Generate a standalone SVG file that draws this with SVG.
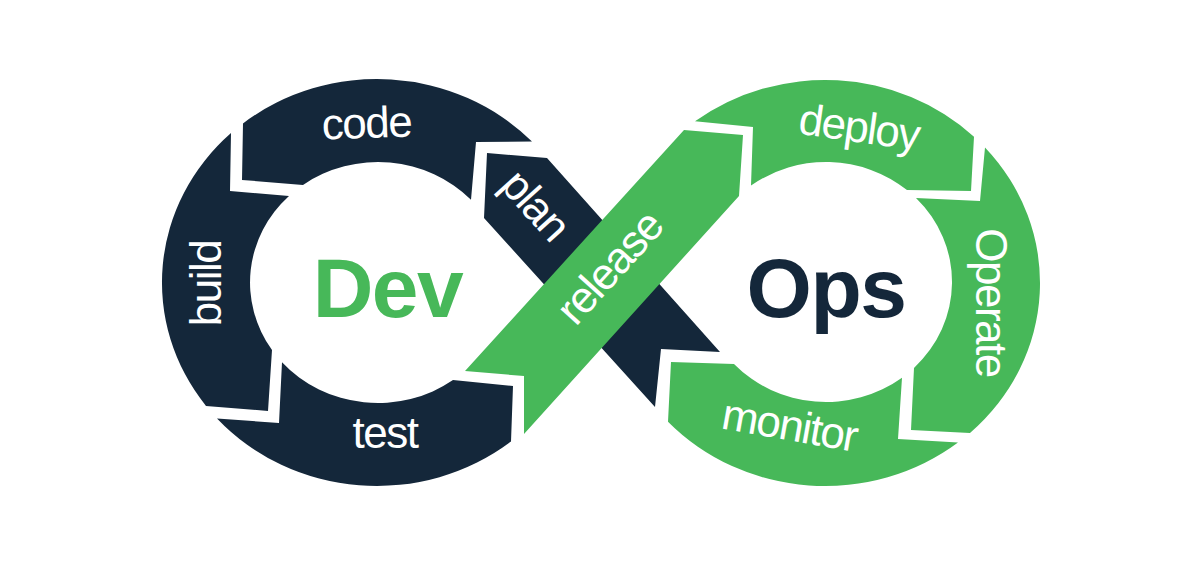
<svg xmlns="http://www.w3.org/2000/svg" width="1200" height="565" viewBox="0 0 1200 565">
  <style>
    .dark { fill: #14273A; }
    .green { fill: #47B859; }
    .lbl { font-family: "Liberation Sans", Arial, sans-serif; font-size: 44px; letter-spacing: -1.5px; fill: #FFFFFF; text-anchor: middle; }
    .big { font-family: "Liberation Sans", Arial, sans-serif; font-size: 84px; font-weight: bold; letter-spacing: -1.5px; text-anchor: middle; }
  </style>
  <rect width="1200" height="565" fill="#FFFFFF"/>

  <g id="code">
    <path class="dark" d="M243,123.4 A215,203.5 0 0 1 532,141.5 L476,142 L471,199.7 A128,120.5 0 0 0 303,184.9 L242,180 Z"/>
    <text class="lbl" transform="translate(367,138) rotate(-2)">code</text>
  </g>

  <g id="build">
    <path class="dark" d="M231,133.1 L230,191 L289,195.9 A128,120.5 0 0 0 272,350 L268,411 L206,405.9 A215,203.5 0 0 1 231,133.1 Z"/>
    <text class="lbl" transform="translate(221,283.5) rotate(-90)">build</text>
  </g>

  <g id="test">
    <path class="dark" d="M217,418.4 L279,423 L282,362.2 A128,120.5 0 0 0 453,380.1 L513,386 L511,441.6 A215,203.5 0 0 1 217,418.4 Z"/>
    <text class="lbl" x="385" y="448">test</text>
  </g>

  <g id="plan">
    <path class="dark" d="M487,153 L547,158 L720,352 L661,349 L655,407 L484,218 Z"/>
    <text class="lbl" transform="translate(524.5,215) rotate(48)">plan</text>
  </g>

  <g id="release">
    <path class="green" d="M465,371 L524,376 L524,434 L739,196 L743,135 L684,130 Z"/>
    <text class="lbl" transform="translate(620.5,277.6) rotate(-47.9)">release</text>
  </g>

  <g id="deploy">
    <path class="green" d="M695,121.3 L753,127 L751,185.6 A126,120 0 0 1 907,190.1 L971,191 L974,136.7 A215,203 0 0 0 695,121.3 Z"/>
    <text class="lbl" transform="translate(857,142) rotate(8)">deploy</text>
  </g>

  <g id="operate">
    <path class="green" d="M985,147.4 L980,201 L916,198 A126,120 0 0 1 914,367.9 L911,430 L970,432.9 A215,203 0 0 0 985,147.4 Z"/>
    <text class="lbl" transform="translate(976,302.5) rotate(90)">Operate</text>
  </g>

  <g id="monitor">
    <path class="green" d="M902,377.7 L898,439 L958,442.5 A215,203 0 0 1 668,421.7 L671,362 L734,364 A126,120 0 0 0 902,377.7 Z"/>
    <text class="lbl" transform="translate(787,440) rotate(10)">monitor</text>
  </g>

  <g id="dev">
    <text class="big" x="387.5" y="317" fill="#47B859">Dev</text>
  </g>

  <g id="ops">
    <text class="big" x="826" y="317" fill="#14273A">Ops</text>
  </g>

  <g id="connectors"></g>
</svg>
